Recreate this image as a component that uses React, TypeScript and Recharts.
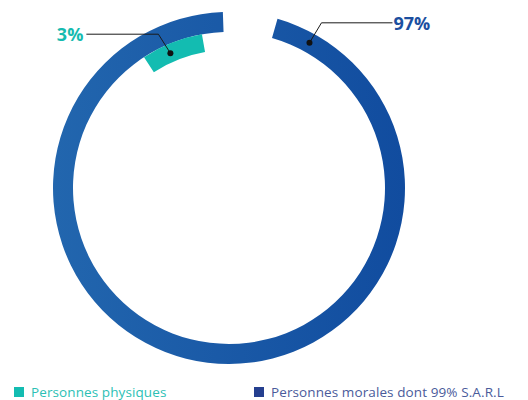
import { PieChart, Pie, Cell } from 'recharts';

const categories = ['Personnes physiques', 'Personnes morales dont 99% S.A.R.L'];
const shares = [3, 97];
const shareLabels = ['3%', '97%'];
const sliceColors = ['#13bcb1', 'url(#ringBlue)'];
const legendSwatches = ['#13bcb1', '#253f8f'];
const legendText = ['#2cbfb5', '#4a5b9b'];
const labelColors = ['#16bbb0', '#1c4f9f'];

const RAD = Math.PI / 180;
const FONT = '"Open Sans", "DejaVu Sans", sans-serif';

function polar(cx: number, cy: number, r: number, angle: number) {
  return { x: cx + r * Math.cos(-angle * RAD), y: cy + r * Math.sin(-angle * RAD) };
}

// teal slice: callout from the middle of the arc, going up-left
const renderSmallLabel = (props: any) => {
  const { cx, cy, midAngle, innerRadius, outerRadius } = props;
  const p = polar(cx, cy, (innerRadius + outerRadius) / 2, midAngle + 2);
  const elbow = { x: p.x - 12, y: p.y - 19 };
  const end = elbow.x - 72;
  return (
    <g>
      <polyline
        points={`${p.x},${p.y} ${elbow.x},${elbow.y} ${end},${elbow.y}`}
        fill="none"
        stroke="#1a1a1a"
        strokeWidth={1}
      />
      <circle cx={p.x} cy={p.y} r={3} fill="#111" />
      <text
        x={end - 3}
        y={elbow.y}
        textAnchor="end"
        dominantBaseline="central"
        fill={labelColors[0]}
        fontFamily={FONT}
        fontSize={18}
        fontWeight={700}
      >
        {shareLabels[0]}
      </text>
    </g>
  );
};

// blue ring: callout near its starting edge, going up-right
const renderBigLabel = (props: any) => {
  const { cx, cy, startAngle, innerRadius, outerRadius } = props;
  const p = polar(cx, cy, (innerRadius + outerRadius) / 2, startAngle - 13);
  const elbow = { x: p.x + 12, y: p.y - 20 };
  const end = elbow.x + 71;
  return (
    <g>
      <polyline
        points={`${p.x},${p.y} ${elbow.x},${elbow.y} ${end},${elbow.y}`}
        fill="none"
        stroke="#1a1a1a"
        strokeWidth={1}
      />
      <circle cx={p.x} cy={p.y} r={3} fill="#111" />
      <text
        x={end + 1}
        y={elbow.y}
        textAnchor="start"
        dominantBaseline="central"
        fill={labelColors[1]}
        fontFamily={FONT}
        fontSize={18}
        fontWeight={700}
      >
        {shareLabels[1]}
      </text>
    </g>
  );
};

export default function App() {
  const small = [{ name: categories[0], value: shares[0] }];
  const big = [{ name: categories[1], value: shares[1] }];

  return (
    <div style={{ position: 'absolute', left: 0, top: 0, width: 528, height: 400, background: '#fff' }}>
      <PieChart width={528} height={400} margin={{ top: 0, right: 0, bottom: 0, left: 0 }}>
        <defs>
          <linearGradient id="ringBlue" x1="0" y1="0" x2="1" y2="0">
            <stop offset="0%" stopColor="#2266ae" />
            <stop offset="100%" stopColor="#114c9f" />
          </linearGradient>
        </defs>
        <Pie
          data={big}
          dataKey="value"
          cx={229}
          cy={188}
          innerRadius={156}
          outerRadius={176}
          startAngle={74}
          endAngle={-268}
          stroke="none"
          labelLine={false}
          label={renderBigLabel}
          isAnimationActive={false}
        >
          <Cell fill={sliceColors[1]} />
        </Pie>
        <Pie
          data={small}
          dataKey="value"
          cx={229}
          cy={188}
          innerRadius={138}
          outerRadius={156}
          startAngle={123}
          endAngle={100}
          stroke="none"
          labelLine={false}
          label={renderSmallLabel}
          isAnimationActive={false}
        >
          <Cell fill={sliceColors[0]} />
        </Pie>
      </PieChart>
      {categories.map((c, i) => (
        <div
          key={c}
          style={{
            position: 'absolute',
            top: 383,
            left: i === 0 ? 14 : 254,
            display: 'flex',
            alignItems: 'center',
            fontFamily: FONT,
            fontSize: 13.5,
            letterSpacing: 0.1,
            color: legendText[i],
            whiteSpace: 'nowrap',
          }}
        >
          <span
            style={{ display: 'inline-block', width: 10, height: 10, background: legendSwatches[i], marginRight: 7 }}
          />
          {c}
        </div>
      ))}
    </div>
  );
}
